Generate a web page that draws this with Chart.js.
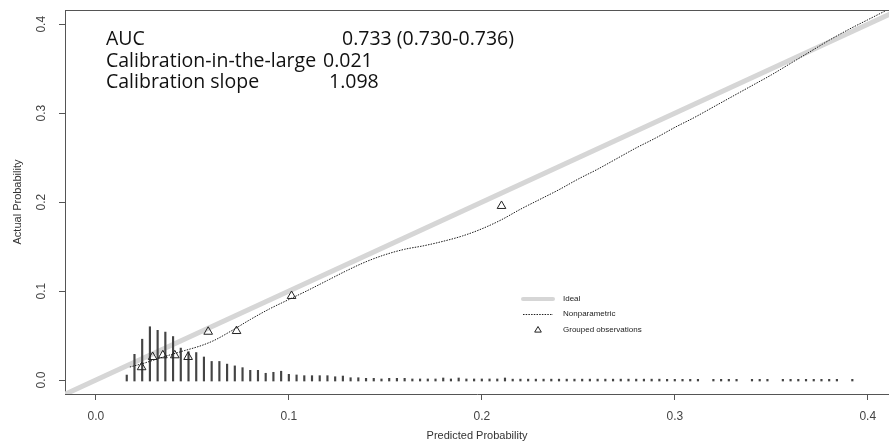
<!DOCTYPE html>
<html>
<head>
<meta charset="utf-8">
<script src="https://cdn.jsdelivr.net/npm/chart.js@4.4.0/dist/chart.umd.min.js"></script>
<style>
  html, body { margin: 0; padding: 0; background: #fff; }
  #wrap { width: 889px; height: 446px; }
</style>
</head>
<body>
<div id="wrap"><canvas id="grafico"></canvas></div>
<script>
// ---------------- DADOS ----------------
const xTicks = [0.0, 0.1, 0.2, 0.3, 0.4];
const yTicks = [0.0, 0.1, 0.2, 0.3, 0.4];

// linha ideal (diagonal y = x)
const idealX = [-0.02, 0.42];
const idealY = [-0.02, 0.42];

// curva não paramétrica (loess)
const npX = [0.0176, 0.025, 0.035, 0.045, 0.055, 0.0617, 0.07, 0.08, 0.09, 0.10,
             0.11, 0.12, 0.13, 0.14, 0.15, 0.16, 0.17, 0.18, 0.19, 0.20,
             0.21, 0.22, 0.23, 0.24, 0.25, 0.26, 0.27, 0.28, 0.29, 0.30,
             0.31, 0.32, 0.33, 0.34, 0.35, 0.36, 0.37, 0.38, 0.39, 0.40, 0.41];
const npY = [0.0146, 0.019, 0.026, 0.0325, 0.039, 0.045, 0.055, 0.068, 0.080, 0.0905,
             0.101, 0.112, 0.123, 0.133, 0.141, 0.147, 0.151, 0.156, 0.162, 0.170,
             0.180, 0.192, 0.203, 0.214, 0.226, 0.237, 0.249, 0.261, 0.272, 0.284,
             0.295, 0.307, 0.319, 0.331, 0.343, 0.356, 0.369, 0.382, 0.394, 0.405, 0.416];

// observações agrupadas (triângulos)
const grupoX = [0.0237, 0.0294, 0.0347, 0.0409, 0.0478, 0.0582, 0.0729, 0.1014, 0.2102];
const grupoY = [0.0144, 0.0259, 0.0278, 0.0278, 0.0259, 0.0543, 0.0551, 0.0945, 0.1957];

// histograma de espículas das probabilidades preditas
const spikeBase = -0.0011;
const spikeX = [
  0.016, 0.020, 0.024, 0.028, 0.032, 0.036, 0.040, 0.044, 0.048, 0.052,
  0.056, 0.060, 0.064, 0.068, 0.072, 0.076, 0.080, 0.084, 0.088, 0.092,
  0.096, 0.100, 0.104, 0.108, 0.112, 0.116, 0.120, 0.124, 0.128, 0.132,
  0.136, 0.140, 0.144, 0.148, 0.152, 0.156, 0.160, 0.164, 0.168, 0.172,
  0.176, 0.180, 0.184, 0.188, 0.192, 0.196, 0.200, 0.204, 0.208, 0.212,
  0.216, 0.220, 0.224, 0.228, 0.232, 0.236, 0.240, 0.244, 0.248, 0.252,
  0.256, 0.260, 0.264, 0.268, 0.272, 0.276, 0.280, 0.284, 0.288, 0.292,
  0.296, 0.300, 0.304, 0.308, 0.312,
  0.320, 0.324, 0.328, 0.332,
  0.340, 0.344, 0.348,
  0.356, 0.360, 0.364, 0.368, 0.372, 0.376, 0.380, 0.384,
  0.392];
const spikeH = [
  0.0067, 0.030, 0.047, 0.061, 0.057, 0.055, 0.050, 0.037, 0.033, 0.032,
  0.027, 0.022, 0.022, 0.019, 0.017, 0.015, 0.012, 0.012, 0.0087, 0.0098,
  0.011, 0.0075, 0.0068, 0.006, 0.006, 0.006, 0.006, 0.0048, 0.0056, 0.0037,
  0.0037, 0.003, 0.003, 0.0023, 0.003, 0.003, 0.003, 0.0023, 0.0023, 0.0023,
  0.0023, 0.0034, 0.0023, 0.0034, 0.0023, 0.0023, 0.0023, 0.0023, 0.0023, 0.0034,
  0.0021, 0.0021, 0.0021, 0.0021, 0.0021, 0.0021, 0.0021, 0.0021, 0.0021, 0.0021,
  0.0021, 0.0021, 0.0021, 0.0021, 0.0021, 0.0021, 0.0021, 0.0021, 0.0021, 0.0021,
  0.0019, 0.0019, 0.0019, 0.0019, 0.0019,
  0.0019, 0.0019, 0.0019, 0.0019,
  0.0019, 0.0019, 0.0019,
  0.0019, 0.0019, 0.0019, 0.0019, 0.0019, 0.0019, 0.0019, 0.0019,
  0.0019];

// estatísticas no canto superior
const statLabels = ["AUC", "Calibration-in-the-large", "Calibration slope"];
const statValues = ["0.733 (0.730-0.736)", "0.021", "1.098"];

const legendLabels = ["Ideal", "Nonparametric", "Grouped observations"];

// ---------------- CONFIGURAÇÕES ----------------
const fonteEixo = "'Liberation Sans', Arial, sans-serif";
const corEixo = "#444";

const pontos = (xs, ys) => xs.map((x, i) => ({ x: x, y: ys[i] }));

// caixa de texto e legenda desenhadas por cima do gráfico
const pluginExtras = {
  id: "extras",
  afterDraw(chart) {
    const { ctx, chartArea } = chart;
    const L = chartArea.left, T = chartArea.top;
    ctx.save();

    // linha superior da caixa
    ctx.strokeStyle = "#555";
    ctx.lineWidth = 1;
    ctx.beginPath();
    ctx.moveTo(L, Math.round(T) + 0.5);
    ctx.lineTo(chartArea.right, Math.round(T) + 0.5);
    ctx.stroke();

    // estatísticas
    ctx.fillStyle = "#111";
    ctx.font = "19.5px 'Open Sans', sans-serif";
    ctx.textBaseline = "alphabetic";
    ctx.textAlign = "left";
    const linhasY = [T + 35, T + 57, T + 78];
    const valoresX = [L + 277, L + 258, L + 264];
    statLabels.forEach((txt, i) => {
      ctx.fillText(txt, L + 41, linhasY[i]);
      ctx.fillText(statValues[i], valoresX[i], linhasY[i]);
    });

    // legenda
    const lx = L + 458, ly = T + 289;
    ctx.lineCap = "round";
    ctx.strokeStyle = "#d6d6d6";
    ctx.lineWidth = 4;
    ctx.beginPath();
    ctx.moveTo(lx, ly); ctx.lineTo(lx + 30, ly);
    ctx.stroke();

    ctx.lineCap = "butt";
    ctx.strokeStyle = "#222";
    ctx.lineWidth = 1;
    ctx.setLineDash([1.5, 1.2]);
    ctx.beginPath();
    ctx.moveTo(lx, ly + 15.5); ctx.lineTo(lx + 30, ly + 15.5);
    ctx.stroke();
    ctx.setLineDash([]);

    // triângulo da legenda
    const tx = lx + 15, ty = ly + 31, r = 3.5;
    ctx.beginPath();
    ctx.moveTo(tx, ty - r);
    ctx.lineTo(tx + r * 0.95, ty + r * 0.6);
    ctx.lineTo(tx - r * 0.95, ty + r * 0.6);
    ctx.closePath();
    ctx.stroke();

    ctx.fillStyle = "#222";
    ctx.font = "8px " + fonteEixo;
    ctx.textBaseline = "middle";
    legendLabels.forEach((txt, i) => {
      ctx.fillText(txt, lx + 40, ly + [0, 15, 31][i]);
    });
    ctx.restore();
  }
};

const eixoBase = (ticks) => ({
  type: "linear",
  offset: false,
  afterBuildTicks: s => { s.ticks = ticks.map(v => ({ value: v })); },
  grid: { display: true, drawOnChartArea: false, drawTicks: true, tickLength: 6, color: "#555", offset: false },
  border: { display: true, color: "#555", width: 1 }
});

const ctx = document.getElementById("grafico").getContext("2d");
const grafico = new Chart(ctx, {
  type: "scatter",
  data: {
    datasets: [
      {
        type: "scatter",
        label: "Grouped observations",
        data: pontos(grupoX, grupoY),
        pointStyle: "triangle",
        pointRadius: 5,
        borderColor: "#222",
        borderWidth: 1,
        backgroundColor: "rgba(0,0,0,0)",
        order: 1
      },
      {
        type: "line",
        label: "Nonparametric",
        data: pontos(npX, npY),
        borderColor: "#1a1a1a",
        borderWidth: 1,
        borderDash: [1.5, 1.2],
        pointRadius: 0,
        cubicInterpolationMode: "monotone",
        fill: false,
        order: 2
      },
      {
        type: "bar",
        label: "spikes",
        data: spikeX.map((x, i) => ({ x: x, y: [spikeBase, spikeBase + spikeH[i]] })),
        backgroundColor: "#444",
        borderWidth: 0,
        barThickness: 1.5,
        grouped: false,
        order: 3
      },
      {
        type: "line",
        label: "Ideal",
        data: pontos(idealX, idealY),
        borderColor: "#d6d6d6",
        borderWidth: 5,
        pointRadius: 0,
        clip: 0,
        order: 4
      }
    ]
  },
  options: {
    responsive: true,
    maintainAspectRatio: false,
    animation: false,
    layout: { autoPadding: false, padding: { top: 10, right: 0, left: 0, bottom: 0 } },
    plugins: { legend: { display: false }, tooltip: { enabled: false } },
    scales: {
      x: Object.assign(eixoBase(xTicks), {
        min: -0.016,
        max: 0.411,
        ticks: { callback: v => Number(v).toFixed(1), font: { family: fonteEixo, size: 12 }, color: corEixo, padding: 9, maxRotation: 0 },
        title: { display: true, text: "Predicted Probability", font: { family: fonteEixo, size: 11 }, color: "#333", padding: { top: 0, bottom: 3.4 } },
        afterFit: s => { s.height = 52; s.paddingLeft = 0; s.paddingRight = 0; }
      }),
      y: Object.assign(eixoBase(yTicks), {
        min: -0.0157,
        max: 0.416,
        ticks: { callback: v => Number(v).toFixed(1), font: { family: fonteEixo, size: 12 }, color: corEixo, padding: 8.5, minRotation: 90, maxRotation: 90, crossAlign: "center" },
        title: { display: true, text: "Actual Probability", font: { family: fonteEixo, size: 11 }, color: "#333", padding: { top: 11, bottom: 0 } },
        afterFit: s => { s.width = 65; s.paddingTop = 0; s.paddingBottom = 0; }
      })
    }
  },
  plugins: [pluginExtras]
});
</script>
</body>
</html>
